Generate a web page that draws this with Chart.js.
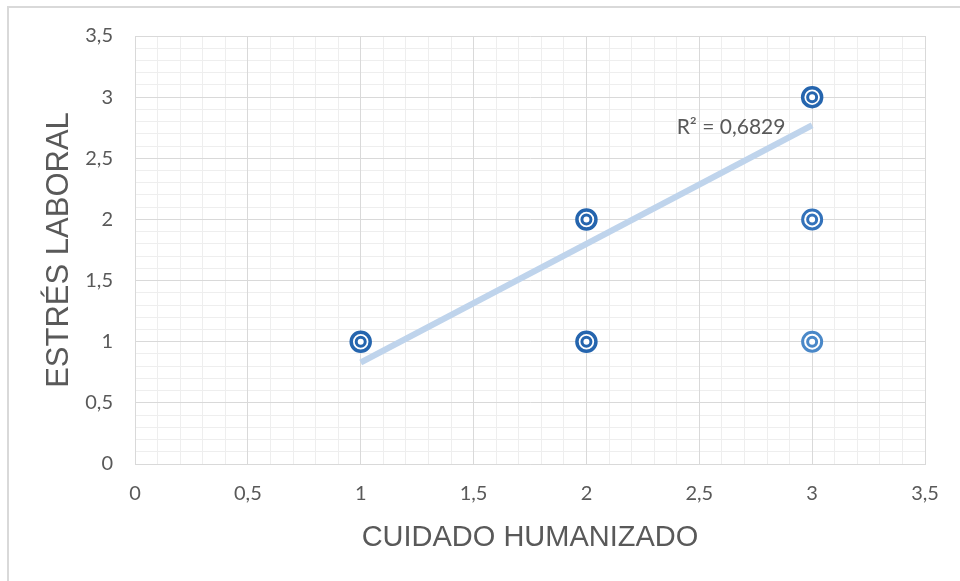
<!DOCTYPE html>
<html>
<head>
<meta charset="utf-8">
<script src="https://cdn.jsdelivr.net/npm/chart.js@4.4.1/dist/chart.umd.min.js"></script>
<style>
  html, body { margin: 0; padding: 0; background: #fff; overflow: hidden; }
  #wrap { position: relative; width: 960px; height: 581px; overflow: hidden; }
  #frame { position: absolute; left: 7px; top: 6px; width: 1000px; height: 1000px; border: 2px solid #d9d9d9; }
  #chart { position: absolute; left: 0; top: 0; }
</style>
</head>
<body>
<div id="wrap">
  <div id="frame"></div>
  <canvas id="chart" width="960" height="581"></canvas>
</div>
<script>
// data
const cuidado = [1, 2, 2, 3, 3, 3];     // CUIDADO HUMANIZADO
const estres = [1, 1, 2, 1, 2, 3];      // ESTRÉS LABORAL
const trendX = [1, 3];                  // linear trendline ends
const trendY = [0.83, 2.77];
const r2Text = 'R² = 0,6829';
const r2Pos = [2.40, 2.75];             // where the label sits, in data units
const axisMin = 0, axisMax = 3.5, majorStep = 0.5, minorStep = 0.1;

// styling
const shade = ['#2565ae', '#2565ae', '#2565ae', '#4a88c8', '#3372ba', '#2565ae'];
const gray = '#595959';
const majorGrid = '#d9d9d9';
const minorGrid = '#eeeeee';

const points = cuidado.map((x, i) => ({x: x, y: estres[i]}));
const trend = trendX.map((x, i) => ({x: x, y: trendY[i]}));
const fmt = v => String(v).replace('.', ',');

const isMajor = v => Math.abs(v / majorStep - Math.round(v / majorStep)) < 1e-6;

const r2Plugin = {
    id: 'r2',
    afterDatasetsDraw(chart) {
        const {ctx, scales} = chart;
        ctx.save();
        ctx.fillStyle = gray;
        ctx.font = '21px Lato';
        ctx.textAlign = 'left';
        ctx.textBaseline = 'middle';
        ctx.fillText(r2Text, scales.x.getPixelForValue(r2Pos[0]), scales.y.getPixelForValue(r2Pos[1]));
        ctx.restore();
    }
};

const minorAxis = (pos) => ({
    type: 'linear',
    position: pos,
    min: axisMin,
    max: axisMax,
    ticks: { display: false, stepSize: minorStep },
    grid: {
        drawTicks: false,
        color: c => isMajor(c.tick.value) ? 'rgba(0,0,0,0)' : minorGrid
    },
    border: { display: false },
    afterFit: s => { if (pos === 'left') s.width = 0; else s.height = 0; }
});

new Chart(document.getElementById('chart'), {
    type: 'scatter',
    data: {
        datasets: [
            {
                label: 'inner',
                data: points,
                order: 0,
                pointRadius: 4.5,
                pointBorderWidth: 3,
                pointBackgroundColor: '#ffffff',
                pointBorderColor: c => shade[c.dataIndex]
            },
            {
                label: 'outer',
                data: points,
                order: 1,
                pointRadius: 9.5,
                pointBorderWidth: c => shade[c.dataIndex] === '#2565ae' ? 3.5 : 3,
                pointBackgroundColor: '#ffffff',
                pointBorderColor: c => shade[c.dataIndex]
            },
            {
                type: 'line',
                label: 'trend',
                data: trend,
                order: 2,
                borderColor: '#bfd4ec',
                borderWidth: 6,
                borderCapStyle: 'butt',
                pointRadius: 0,
                fill: false
            }
        ]
    },
    options: {
        responsive: false,
        animation: false,
        layout: { padding: { top: 36, right: 35, left: 0, bottom: 0 } },
        plugins: { legend: { display: false }, tooltip: { enabled: false } },
        scales: {
            xMinor: minorAxis('bottom'),
            yMinor: minorAxis('left'),
            x: {
                type: 'linear',
                position: 'bottom',
                min: axisMin,
                max: axisMax,
                ticks: {
                    stepSize: majorStep,
                    color: gray,
                    font: { family: 'Lato', size: 20 },
                    padding: 18,
                    callback: v => fmt(v)
                },
                grid: { color: majorGrid, drawTicks: false },
                border: { color: majorGrid },
                title: {
                    display: true,
                    text: 'CUIDADO HUMANIZADO',
                    color: gray,
                    font: { family: 'Liberation Sans', size: 29 },
                    padding: { top: 0, bottom: 26 }
                },
                afterFit: s => { s.height = 117; }
            },
            y: {
                type: 'linear',
                position: 'left',
                min: axisMin,
                max: axisMax,
                ticks: {
                    stepSize: majorStep,
                    color: gray,
                    font: { family: 'Lato', size: 20 },
                    padding: 22,
                    callback: v => fmt(v)
                },
                grid: { color: majorGrid, drawTicks: false },
                border: { color: majorGrid },
                title: {
                    display: true,
                    text: 'ESTRÉS LABORAL',
                    color: gray,
                    font: { family: 'Liberation Sans', size: 31 },
                    padding: { top: 41, bottom: 0 }
                },
                afterFit: s => { s.width = 135; }
            }
        }
    },
    plugins: [r2Plugin]
});
</script>
</body>
</html>
